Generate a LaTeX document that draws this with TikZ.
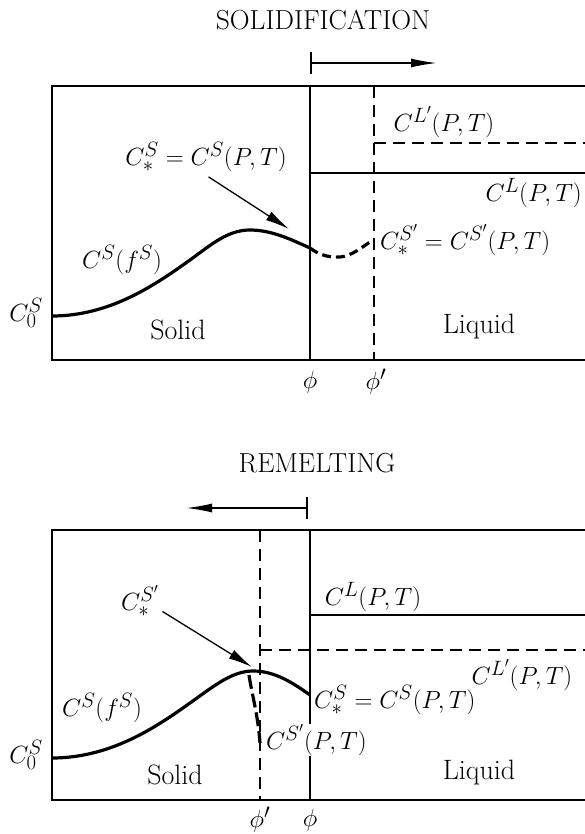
\documentclass[tikz,border=0pt]{standalone}
\usetikzlibrary{arrows.meta,positioning}
\begin{document}
\begin{tikzpicture}[x=1pt,y=-1pt,font=\fontsize{28}{33}\selectfont,
    frame/.style={line width=2.4pt},
    front/.style={line width=1.7pt},
    primeline/.style={line width=1.8pt,dash pattern=on 12pt off 7pt},
    profile/.style={line width=3.2pt},
    title/.style={font=\fontsize{27.5}{33}\selectfont},
    tight/.style={inner sep=1pt,fill=white},
    motion/.style={line width=1.7pt,{Bar[width=22pt]}-{Latex[length=26pt,width=9pt]}},
    pointer/.style={line width=1.3pt,-{Latex[length=24pt,width=10pt]}}]
    \useasboundingbox (0,0) rectangle (584,834);
    % top panel: solidification
    \node[title] (solTitle) at (323,20) {SOLIDIFICATION};
    \coordinate (sFrom) at (310,63);
    \coordinate (sTo) at (437,63);
    \draw[motion] (sFrom) -- (sTo);
    \draw[frame] (590,86) -- (52,86) -- (52,360) -- (590,360);
    \draw[front] (310,86) -- (310,360);
    \draw[primeline] (374,86) -- (374,360);
    \draw[front] (310,173) -- (590,173);
    \draw[primeline] (374,143) -- (590,143);
    \draw[profile] (52,316) .. controls (110,316) and (155,285) .. (190,260)
      .. controls (212,244) and (228,230) .. (250,230)
      .. controls (272,230) and (292,240) .. (310,248);
    \draw[profile,dash pattern=on 9pt off 5pt] (310,248) .. controls (318,254) and (328,258) .. (340,257)
      .. controls (352,256) and (362,247) .. (373,240);
    \node (clpTop) at (444,122) {$C^{L'}(P,T)$};
    \node[anchor=east,inner sep=2pt] (clTop) at (584,193) {$C^{L}(P,T)$};
    \node (csTop) at (206,157) {$C^S_* = C^S(P,T)$};
    \node[anchor=west,inner sep=2pt] (cspTop) at (378,240) {$C^{S'}_* = C^{S'}(P,T)$};
    \node (cfTop) at (122,260) {$C^S(f^S)$};
    \node (c0Top) at (26,313) {$C^S_0$};
    \node (solidTop) at (178,330) {Solid};
    \node (liquidTop) at (479,327) {Liquid};
    \node (phiTop) at (310,382) {$\phi$};
    \node (phipTop) at (376,382) {$\phi'$};
    \coordinate (tipTop) at (289,229);
    \draw[pointer,shorten <=3pt] (csTop.south) -- (tipTop);
    % bottom panel: remelting
    \node[title] (remTitle) at (317,463) {REMELTING};
    \coordinate (rFrom) at (308,508);
    \coordinate (rTo) at (186,508);
    \draw[motion] (rFrom) -- (rTo);
    \draw[frame] (590,530) -- (52,530) -- (52,800) -- (590,800);
    \draw[front] (310,530) -- (310,800);
    \draw[primeline] (260,530) -- (260,800);
    \draw[front] (310,615) -- (590,615);
    \draw[primeline] (260,650) -- (590,650);
    \draw[profile] (52,758) .. controls (110,758) and (155,728) .. (190,703)
      .. controls (214,686) and (232,671) .. (253,671)
      .. controls (275,671) and (293,683) .. (310,695);
    \draw[profile,dash pattern=on 14pt off 5pt] (249,675) .. controls (252,695) and (258,715) .. (260,743);
    \node (clBot) at (373,597) {$C^{L}(P,T)$};
    \node (clpBot) at (522,675) {$C^{L'}(P,T)$};
    \node (cspBot) at (140,601) {$C^{S'}_*$};
    \node[tight,anchor=west] (csBot) at (313,700) {$C^S_* = C^S(P,T)$};
    \node[tight,anchor=west] (cspPT) at (265,740) {$C^{S'}(P,T)$};
    \node (cfBot) at (102,708) {$C^S(f^S)$};
    \node (c0Bot) at (26,755) {$C^S_0$};
    \node (solidBot) at (175,775) {Solid};
    \node (liquidBot) at (479,773) {Liquid};
    \node (phipBot) at (260,820) {$\phi'$};
    \node (phiBot) at (310,820) {$\phi$};
    \coordinate (tipBot) at (252,667);
    \draw[pointer] (cspBot.-25) -- (tipBot);
  \end{tikzpicture}
\end{document}
